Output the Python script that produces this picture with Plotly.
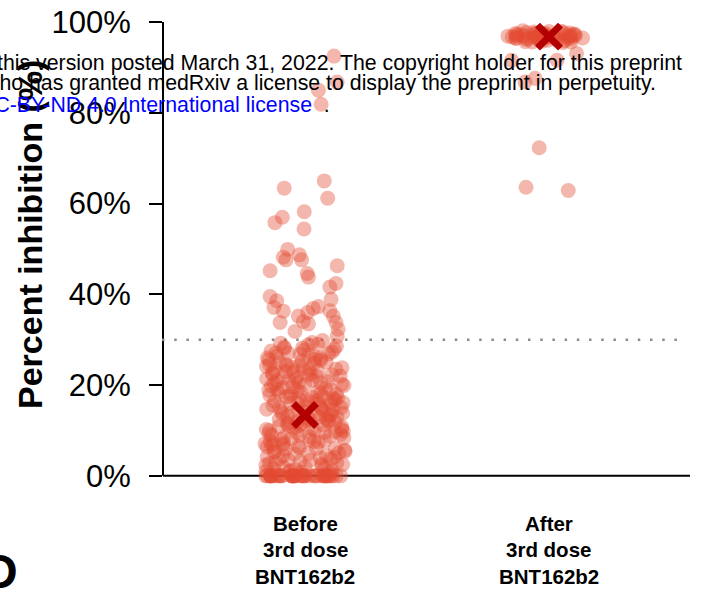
import plotly.graph_objects as go

# ---------------- data ----------------
categories = ["Before<br>3rd dose<br>BNT162b2", "After<br>3rd dose<br>BNT162b2"]
category_lines = [["Before", "3rd dose", "BNT162b2"], ["After", "3rd dose", "BNT162b2"]]
category_pos = [0, 1]

# Before 3rd dose: dense part (0-30 %), jittered by the library
before_dense = [
    29.8, 29.2, 28.9, 28.4, 28.1, 27.9, 27.3, 27.0, 26.8, 26.6, 26.2, 25.9, 25.7, 25.3, 25.1,
    29.0, 27.5, 26.0, 28.6, 25.5, 27.7, 26.4, 29.4, 28.2, 26.9, 25.6, 27.1,
    24.8, 24.6, 24.3, 24.1, 23.8, 23.5, 23.3, 23.0, 22.7, 22.4, 22.2, 21.9, 21.6, 21.4, 21.1,
    20.9, 20.6, 20.3, 20.1, 24.9, 23.7, 22.9, 21.7, 20.5, 24.2, 22.0, 23.1, 20.8,
    24.5, 23.4, 22.6, 21.3, 20.2, 23.9, 22.3, 21.0,
    19.8, 19.6, 19.3, 19.1, 18.8, 18.5, 18.2, 18.0, 17.8, 17.5, 17.3, 17.0, 16.8, 16.5, 16.2,
    16.0, 15.8, 15.5, 15.2, 15.0, 19.9, 18.6, 17.1, 16.7, 15.4, 19.4, 18.1, 16.3, 17.6, 15.7,
    19.0, 18.3, 17.4, 16.6, 15.9, 15.1, 18.9, 17.2, 16.1,
    14.9, 14.6, 14.3, 14.1, 13.8, 13.5, 13.3, 13.0, 12.8, 12.5, 12.2, 12.0, 11.7, 11.5, 11.2,
    11.0, 10.8, 10.5, 10.2, 10.0, 14.7, 13.6, 12.9, 11.9, 10.6, 14.2, 13.1, 12.3, 11.4, 10.3,
    14.4, 13.7, 12.6, 11.8, 10.9, 10.1, 13.9, 12.4, 11.1,
    9.8, 9.5, 9.3, 9.0, 8.8, 8.5, 8.2, 8.0, 7.7, 7.5, 7.2, 7.0, 6.7, 6.5, 6.2, 6.0, 5.7, 5.5,
    5.2, 9.9, 8.6, 7.4, 6.1, 5.4, 9.1, 7.9, 6.8, 5.9, 9.6, 8.4, 7.1, 6.4, 5.1, 8.9, 7.6,
    4.8, 4.5, 4.2, 4.0, 3.7, 3.5, 3.2, 3.0, 2.7, 2.5, 2.2, 2.0, 1.7, 1.5, 1.2, 1.0, 0.8, 0.6,
    4.9, 3.8, 2.9, 1.9, 1.1, 4.4, 2.4, 3.4, 1.4, 4.1, 2.6, 0.9,
    0, 0, 0, 0, 0, 0, 0, 0, 0, 0, 0, 0, 0, 0, 0, 0, 0, 0, 0, 0,
    0, 0, 0, 0, 0, 0, 0, 0, 0, 0, 0, 0, 0, 0, 0, 0, 0, 0, 0, 0,
]
# Before 3rd dose: sparse upper points (value, horizontal offset)
before_sparse_y = [92.5, 86.8, 85.0, 81.9, 65.0, 63.4, 61.2, 58.2, 57.0, 55.8, 54.4, 49.9, 48.7,
                   48.2, 47.6, 47.6, 46.3, 45.2, 44.6, 43.8, 42.4, 41.6, 39.5, 38.9, 38.6, 37.3,
                   37.1, 36.9, 36.4, 36.3, 36.0, 35.2, 35.2, 34.0, 33.8, 33.8, 33.5, 32.3, 31.8,
                   30.7]
before_sparse_dx = [0.119, 0.132, 0.055, 0.066, 0.079, -0.085, 0.093, -0.003, -0.093, -0.123,
                    -0.004, -0.071, -0.023, -0.089, -0.014, -0.078, 0.132, -0.143, 0.009, 0.014,
                    0.127, 0.102, -0.143, 0.107, -0.116, 0.055, -0.127, 0.034, 0.102, -0.089,
                    0.011, 0.116, -0.027, -0.007, -0.102, 0.127, 0.014, 0.136, -0.041, 0.132]

# After 3rd dose: dense part near the top
after_dense = [
    97.8, 97.6, 97.5, 97.4, 97.3, 97.2, 97.1, 97.0, 96.9, 96.8, 96.7, 96.6, 96.5, 96.4, 96.3,
    96.2, 96.1, 96.0, 95.8, 95.6, 97.7, 97.5, 97.3, 97.2, 97.0, 96.9, 96.8, 96.7, 96.6, 96.5,
    96.4, 96.3, 96.9, 97.1, 97.4, 96.8, 97.0, 96.6, 97.2, 96.7, 95.9, 96.2, 97.6, 97.3, 96.5,
    98.1, 97.9, 95.5, 95.7, 98.0, 96.0, 97.8, 95.6,
]
after_sparse_y = [93.1, 91.6, 91.6, 87.6, 86.8, 72.3, 63.6, 62.9]
after_sparse_dx = [0.113, -0.153, 0.033, -0.057, -0.098, -0.040, -0.094, 0.079]

median_values = [13.4, 96.8]
threshold = 30

y_ticks = [0, 20, 40, 60, 80, 100]
y_ticklabels = ["0%", "20%", "40%", "60%", "80%", "100%"]
y_title = "Percent inhibition (%)"

watermark_lines = [
    "this version posted March 31, 2022. The copyright holder for this preprint",
    "who has granted medRxiv a license to display the preprint in perpetuity.",
]
license_text = "CC-BY-ND 4.0 International license"
panel_letter = "D"

# ---------------- layout helpers ----------------
W, H = 702, 591
L, R, T, B = 163, 12, 13, 97
PW, PH = W - L - R, H - T - B


def px(x):
    return (x - L) / PW


def py(y):
    return 1 - (y - T) / PH


point_color = "rgba(227,74,51,0.4)"
msize = 15
reg = "Liberation Sans, Arial, sans-serif"

fig = go.Figure()

fig.add_trace(go.Box(
    x=[category_pos[0]] * len(before_dense), y=before_dense,
    boxpoints="all", jitter=1, pointpos=0, width=0.33,
    fillcolor="rgba(0,0,0,0)", line=dict(color="rgba(0,0,0,0)", width=0),
    marker=dict(color=point_color, size=msize), hoverinfo="skip", showlegend=False,
))
fig.add_trace(go.Box(
    x=[category_pos[1]] * len(after_dense), y=after_dense,
    boxpoints="all", jitter=1, pointpos=0, width=0.36,
    fillcolor="rgba(0,0,0,0)", line=dict(color="rgba(0,0,0,0)", width=0),
    marker=dict(color=point_color, size=msize), hoverinfo="skip", showlegend=False,
))
fig.add_trace(go.Scatter(
    x=[category_pos[0] + d for d in before_sparse_dx], y=before_sparse_y,
    mode="markers", marker=dict(color=point_color, size=msize),
    cliponaxis=False, showlegend=False, hoverinfo="skip",
))
fig.add_trace(go.Scatter(
    x=[category_pos[1] + d for d in after_sparse_dx], y=after_sparse_y,
    mode="markers", marker=dict(color=point_color, size=msize),
    cliponaxis=False, showlegend=False, hoverinfo="skip",
))
fig.add_trace(go.Scatter(
    x=category_pos, y=median_values, mode="markers",
    marker=dict(symbol="x-thin", size=23, line=dict(width=7, color="#B30000")),
    cliponaxis=False, showlegend=False, hoverinfo="skip",
))

shapes = [
    dict(type="line", xref="paper", yref="y", x0=0, x1=0, y0=0, y1=100,
         line=dict(color="black", width=2), layer="below"),
    dict(type="line", xref="paper", yref="y", x0=0, x1=1, y0=0, y1=0,
         line=dict(color="black", width=2), layer="below"),
    dict(type="line", xref="paper", yref="y", x0=px(162), x1=px(682), y0=threshold, y1=threshold,
         line=dict(color="#8a8a8a", width=2.5, dash="2.5px,9.7px"), layer="below"),
]

annotations = []
# category labels, one line each
for pos, lines in zip(category_pos, category_lines):
    for k, txt in enumerate(lines):
        annotations.append(dict(
            x=pos, xref="x", y=py(523 + 26.5 * k), yref="paper", text="<b>%s</b>" % txt,
            showarrow=False, xanchor="center", yanchor="middle",
            font=dict(family=reg, size=20.5, color="black"),
        ))
# y title
annotations.append(dict(
    x=px(30), y=py(235), xref="paper", yref="paper", text="<b>%s</b>" % y_title,
    textangle=-90, showarrow=False, xanchor="center", yanchor="middle",
    font=dict(family=reg, size=34, color="black"),
))
# watermark lines
annotations.append(dict(
    x=px(-5), y=py(62.7), xref="paper", yref="paper", text=watermark_lines[0],
    showarrow=False, xanchor="left", yanchor="middle",
    font=dict(family=reg, size=21.3, color="black"),
))
annotations.append(dict(
    x=px(-19.5), y=py(83.2), xref="paper", yref="paper", text=watermark_lines[1],
    showarrow=False, xanchor="left", yanchor="middle",
    font=dict(family=reg, size=21.3, color="black"),
))
annotations.append(dict(
    x=px(-23), y=py(104.5), xref="paper", yref="paper",
    text='<span style="color:#0000FF">%s</span>&nbsp;&nbsp;.' % license_text,
    showarrow=False, xanchor="left", yanchor="middle",
    font=dict(family=reg, size=21.3, color="black"),
))
# partially visible panel letter of the next panel
annotations.append(dict(
    x=px(-19), y=py(543), xref="paper", yref="paper", text="<b>%s</b>" % panel_letter,
    showarrow=False, xanchor="left", yanchor="top",
    font=dict(family=reg, size=48, color="black"),
))

fig.update_layout(
    template="none",
    width=W, height=H,
    margin=dict(l=L, r=R, t=T, b=B, pad=0, autoexpand=False),
    paper_bgcolor="white", plot_bgcolor="white",
    boxmode="overlay", showlegend=False,
    shapes=shapes, annotations=annotations,
    xaxis=dict(range=[-0.582, 1.578], showgrid=False, zeroline=False, showline=False,
               automargin=False, showticklabels=False, ticks="",
               tickvals=category_pos, ticktext=categories),
    yaxis=dict(range=[-4, 102], showgrid=False, zeroline=False, showline=False,
               automargin=False,
               tickvals=y_ticks, ticktext=y_ticklabels, ticks="outside", ticklen=13,
               tickwidth=2, tickcolor="black", ticklabelstandoff=12,
               tickfont=dict(family=reg, size=31, color="black")),
)

fig.write_html(
    "out.html",
    config={"displayModeBar": False},
    post_script="document.body.style.margin='0';document.body.style.overflow='hidden';",
)
